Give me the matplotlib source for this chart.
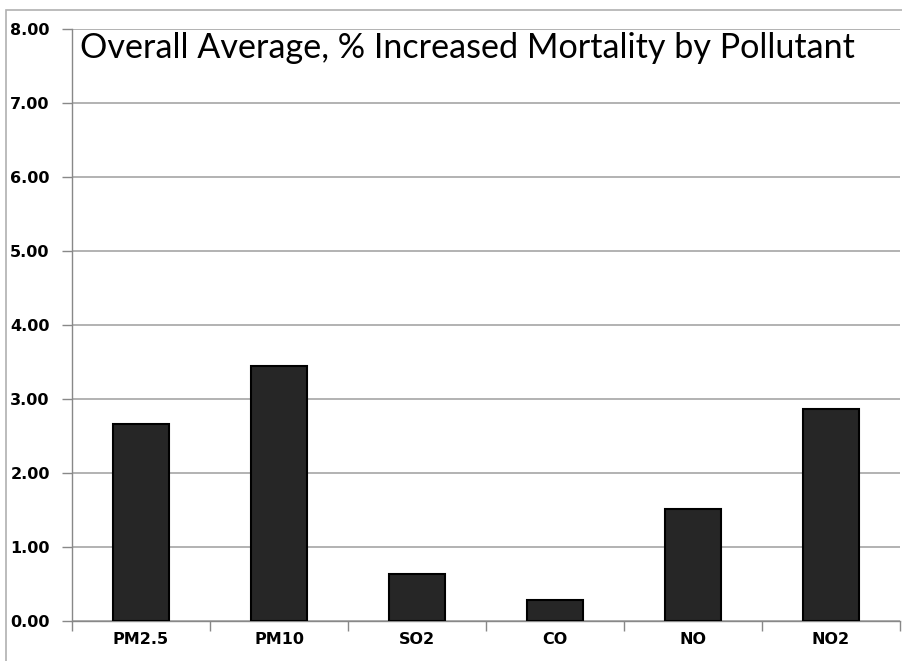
import matplotlib
matplotlib.use('Agg')
import matplotlib.pyplot as plt
from matplotlib.patches import Rectangle

plt.rcParams['font.family'] = ['Lato', 'DejaVu Sans']

# 数据
pollutants = ['PM2.5', 'PM10', 'SO2', 'CO', 'NO', 'NO2']
increase = [2.66, 3.45, 0.64, 0.29, 1.52, 2.87]
yticks = [0, 1, 2, 3, 4, 5, 6, 7, 8]

W, H = 902, 661
fig = plt.figure(figsize=(W / 100, H / 100), dpi=100)

# 外框
fig.patches.append(Rectangle((6 / W, -0.1), 1.2, 1.1 - 10 / H,
                             transform=fig.transFigure, fill=False,
                             edgecolor='#b0b0b0', linewidth=1.2))

ax = fig.add_axes([72 / W, 1 - 621 / H, (900 - 72) / W, (621 - 29) / H])

x = list(range(len(pollutants)))
ax.bar(x, increase, width=0.41, color='#262626', edgecolor='black',
       linewidth=1.5, zorder=3)

lab_font = dict(family='DejaVu Sans', fontweight='bold', fontsize=11.5)
ax.set_xlim(-0.5, len(pollutants) - 0.5)
ax.set_ylim(0, 8)
ax.set_yticks(yticks)
ax.set_yticklabels([f'{v:.2f}' for v in yticks], **lab_font)
ax.set_xticks(x)
ax.set_xticklabels(pollutants, **lab_font)
ax.set_xticks([i + 0.5 for i in range(-1, len(pollutants))], minor=True)

ax.grid(axis='y', color='#a6a6a6', linewidth=1.2, zorder=0)
ax.tick_params(axis='y', length=7, width=1, color='#888888', pad=9)
ax.tick_params(axis='x', which='major', length=0, pad=8)
ax.tick_params(axis='x', which='minor', length=7, width=1, color='#888888')

for s in ['top', 'right']:
    ax.spines[s].set_visible(False)
for s in ['left', 'bottom']:
    ax.spines[s].set_color('#888888')
    ax.spines[s].set_linewidth(1)

ax.text(8 / 828, 0.995, 'Overall Average, % Increased Mortality by Pollutant',
        transform=ax.transAxes, ha='left', va='top', fontsize=24.6)

fig.savefig('out.png', dpi=100)
